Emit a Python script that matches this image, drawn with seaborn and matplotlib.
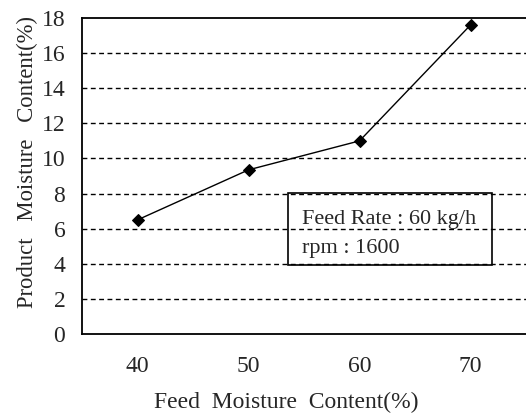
import matplotlib
matplotlib.use("Agg")
import matplotlib.pyplot as plt
import seaborn as sns
import pandas as pd
from matplotlib.patches import Rectangle

categories = ["40", "50", "60", "70"]
values = [6.5, 9.35, 11.0, 17.6]
yticks = [0, 2, 4, 6, 8, 10, 12, 14, 16, 18]

sns.set_theme(style="white")
plt.rcParams['font.family'] = ['Liberation Serif', 'DejaVu Serif']

df = pd.DataFrame({"feed": categories, "product": values})

fig = plt.figure(figsize=(5.26, 4.13), dpi=100)
ax = fig.add_axes([82/526, 1-334/413, 444/526, 316/413])

for v in yticks[1:-1]:
    ax.axhline(v, color="black", lw=1.0, ls=(0, (3.5, 2.5)), zorder=0)

sns.lineplot(data=df, x="feed", y="product", marker="D", markersize=6.5,
             color="black", lw=1.0, markeredgecolor="black", ax=ax, sort=False)

ax.set_xlim(-0.5, 3.5)
ax.set_ylim(0, 18)
ax.set_yticks(yticks)
ax.set_yticklabels([str(t) for t in yticks], fontsize=17)
ax.set_xticks(range(len(categories)))
ax.set_xticklabels(categories, fontsize=17)
ax.tick_params(axis="y", length=0, pad=12)
ax.tick_params(axis="x", length=0, pad=16)

for s in ["left", "bottom", "top"]:
    ax.spines[s].set_color("black")
    ax.spines[s].set_linewidth(1.3)
ax.spines["right"].set_visible(False)

ax.set_xlabel("Feed  Moisture  Content(%)", fontsize=17)
ax.xaxis.set_label_coords(0.46, -0.183)
ax.set_ylabel("Product   Moisture   Content(%)", fontsize=16.3)
ax.yaxis.set_label_coords(-0.10, 0.544)

ax.text(0.495, 0.363, "Feed Rate : 60 kg/h", transform=ax.transAxes,
        fontsize=16, va="center", ha="left")
ax.text(0.495, 0.27, "rpm : 1600", transform=ax.transAxes,
        fontsize=16, va="center", ha="left")
ax.add_patch(Rectangle((0.464, 0.218), 0.459, 0.228, transform=ax.transAxes,
                       facecolor="none", edgecolor="black", lw=1.2, zorder=3))

fig.savefig("out.png", dpi=100)
